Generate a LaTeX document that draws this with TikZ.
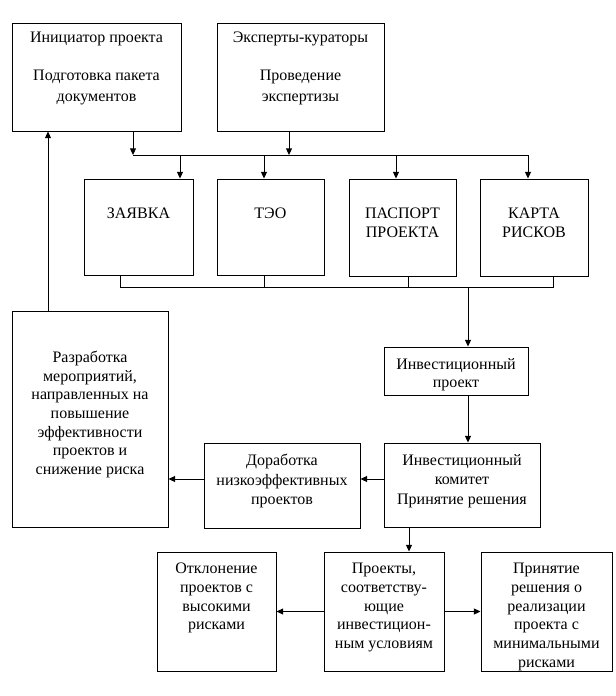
\documentclass[tikz,border=0pt]{standalone}
\usepackage{fontspec}
\setmainfont{Liberation Serif}
\usetikzlibrary{calc}
\usetikzlibrary{arrows.meta}

\tikzset{
  box/.style 2 args={draw, line width=0.75pt, inner sep=0pt, minimum width=#1*0.75pt, minimum height=#2*0.75pt},
  txt/.style={anchor=north, align=center, inner sep=0pt, font=\fontsize{12pt}{14pt}\selectfont},
  arr/.style={-{Triangle[length=5pt,width=4.5pt]}},
}

\begin{document}
\begin{tikzpicture}[x=0.75pt,y=-0.75pt,line width=0.75pt]
\useasboundingbox (0,0) rectangle (615,696);
\node[box={169}{108}] (init) at (96.5,77) {};
\node[box={167}{108}] (exp) at (300.5,77) {};
\node[box={109}{96}] (zay) at (138.5,227) {};
\node[box={107}{96}] (teo) at (270.5,227) {};
\node[box={107}{97}] (pas) at (402.5,227.5) {};
\node[box={108}{97}] (kar) at (534,227.5) {};
\node[box={144}{48}] (inv) at (456,371) {};
\node[box={156}{84}] (kom) at (462,485) {};
\node[box={156}{85}] (dor) at (282,485.5) {};
\node[box={156}{216}] (raz) at (90,419) {};
\node[box={119}{119}] (otk) at (216.5,611.5) {};
\node[box={120}{119}] (pro) at (384,611.5) {};
\node[box={131}{119}] (pri) at (546.5,611.5) {};

\node[txt, font=\fontsize{12pt}{15.5pt}\selectfont, yshift=-7pt] (init-t) at (init.north) {Инициатор проекта\\[13pt]Подготовка пакета\\документов};
\node[txt, font=\fontsize{12pt}{15.5pt}\selectfont, yshift=-7pt] (exp-t) at (exp.north) {Эксперты-кураторы\\[13pt]Проведение\\экспертизы};
\node[txt, yshift=-22pt] (zay-t) at (zay.north) {ЗАЯВКА};
\node[txt, yshift=-22pt] (teo-t) at (teo.north) {ТЭО};
\node[txt, yshift=-22pt] (pas-t) at (pas.north) {ПАСПОРТ\\ПРОЕКТА};
\node[txt, yshift=-22pt] (kar-t) at (kar.north) {КАРТА\\РИСКОВ};
\node[txt, yshift=-8.5pt] (inv-t) at (inv.north) {Инвестиционный\\проект};
\node[txt, font=\fontsize{12pt}{14.6pt}\selectfont, yshift=-8.5pt] (kom-t) at (kom.north) {Инвестиционный\\комитет\\Принятие решения};
\node[txt, font=\fontsize{12pt}{14.6pt}\selectfont, yshift=-8.5pt] (dor-t) at (dor.north) {Доработка\\низкоэффективных\\проектов};
\node[txt, yshift=-30pt] (raz-t) at (raz.north) {Разработка\\мероприятий,\\направленных на\\повышение\\эффективности\\проектов и\\снижение риска};
\node[txt, yshift=-8.5pt] (otk-t) at (otk.north) {Отклонение\\проектов с\\высокими\\рисками};
\node[txt, yshift=-8.5pt] (pro-t) at (pro.north) {Проекты,\\соответству-\\ющие\\инвестицион-\\ным условиям};
\node[txt, yshift=-8.5pt] (pri-t) at (pri.north) {Принятие\\решения о\\реализации\\проекта с\\минимальными\\рисками};

\coordinate (b1) at (133,155);
\coordinate (b2) at (289,155);
\coordinate (b3) at (528,155);
\coordinate (u1) at (120,287);
\coordinate (u2) at (264,287);
\coordinate (u3) at (408,287);
\coordinate (u4) at (553,287);
\coordinate (u0) at (468,287);
\coordinate (h1) at (0,479);
\coordinate (v1) at (48,0);
\coordinate (v2) at (409,0);

\draw[arr] (init.south -| b1) -- (b1);
\draw[arr] (exp.south -| b2) -- (b2);
\draw (b1) -- (b3);
\foreach \n/\x in {zay/180,teo/264,pas/396,kar/528}
  \draw[arr] (\x,155) -- (\n.north -| \x,0);
\draw (zay.south -| u1) -- (u1) -- (u4) -- (kar.south -| u4);
\draw (teo.south -| u2) -- (u2);
\draw (pas.south -| u3) -- (u3);
\draw[arr] (u0) -- (inv.north -| u0);
\draw[arr] (inv.south -| u0) -- (kom.north -| u0);
\draw[arr] (kom.west |- h1) -- (dor.east |- h1);
\draw[arr] (dor.west |- h1) -- (raz.east |- h1);
\draw[arr] (raz.north -| v1) -- (init.south -| v1);
\draw[arr] (kom.south -| v2) -- (pro.north -| v2);
\draw[arr] (pro.west) -- (otk.east);
\draw[arr] (pro.east) -- (pri.west);
\end{tikzpicture}
\end{document}
